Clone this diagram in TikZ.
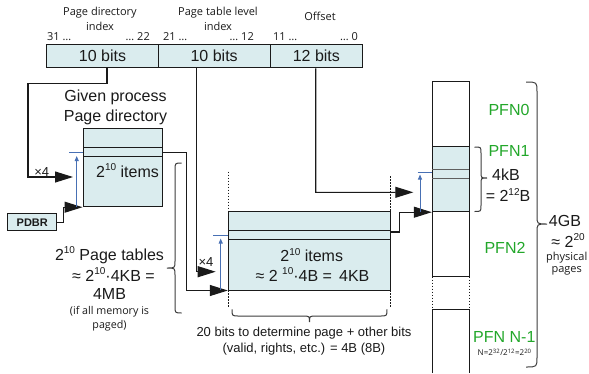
\documentclass[tikz,border=0pt]{standalone}
\usepackage{fontspec}
\setmainfont{Liberation Sans}
\newfontfamily\smallf{Open Sans}
\usetikzlibrary{arrows.meta}
\definecolor{boxfill}{RGB}{218,236,238}
\definecolor{pfn}{RGB}{34,167,42}
\definecolor{arrblue}{RGB}{72,112,180}
\definecolor{ink}{RGB}{26,26,26}
\newcommand\spx[1]{\raisebox{0.42em}{\fontsize{10}{10}\selectfont #1}}
\begin{document}
\begin{tikzpicture}[x=1pt,y=-1pt,
  line/.style={draw=ink,line width=1.1pt},
  conn/.style={line,-{Triangle[length=18pt,width=11pt]}},
  bl/.style={draw=arrblue,line width=0.9pt},
  blarrow/.style={bl,-{Triangle[length=5pt,width=4pt]}},
  boxed/.style={draw=ink,fill=boxfill,line width=1pt,inner sep=0pt},
  cell/.style={boxed,minimum height=23.5pt,font=\fontsize{16}{18}\selectfont,text=ink},
  lbl/.style={font=\smallf\fontsize{11}{13}\selectfont,text=ink,inner sep=0pt},
  big/.style={font=\fontsize{16}{19}\selectfont,text=ink,inner sep=0pt},
  mid/.style={font=\fontsize{13}{15}\selectfont,text=ink,inner sep=0pt},
  green/.style={font=\fontsize{16}{19}\selectfont,text=pfn,inner sep=0pt},
  dotline/.style={draw=ink,line width=0.8pt,dash pattern=on 1.5pt off 1.5pt},
  brace/.style={draw=ink!85,line width=1pt}
]
\useasboundingbox (0,0) rectangle (589,373);

% ---- top register
\node[lbl] (l1a) at (100,12.5) {Page directory};
\node[lbl] (l1b) at (100,26) {index};
\node[lbl] (l2a) at (218,12.5) {Page table level};
\node[lbl] (l2b) at (218,26) {index};
\node[lbl] (l3) at (320,16) {Offset};
\node[lbl,anchor=west] (b31) at (47,36.5) {31 …};
\node[lbl,anchor=east] (b22) at (150,36.5) {… 22};
\node[lbl,anchor=west] (b21) at (163,36.5) {21 …};
\node[lbl,anchor=east] (b12) at (254,36.5) {… 12};
\node[lbl,anchor=west] (b11) at (273,36.5) {11 …};
\node[lbl,anchor=east] (b0) at (358,36.5) {… 0};

\node[cell,minimum width=111.6pt] (pdi) at (102.5,56) {10 bits};
\node[cell,minimum width=111.7pt] (ptl) at (214.15,56) {10 bits};
\node[cell,minimum width=92.7pt] (off) at (316.35,56) {12 bits};

% ---- page directory
\node[big] (gp1) at (115.5,97.7) {Given process};
\node[big] (gp2) at (115.5,117.3) {Page directory};
\node[boxed,minimum width=79.7pt,minimum height=78.4pt] (pd) at (122.85,167.5) {};
\draw[line,line width=1pt] (83,147.3) -- (162.7,147.3);
\draw[line,line width=1pt] (83,156.7) -- (162.7,156.7);
\node[big] (pdtxt) at (127.5,170.7) {2\spx{10} items};

\node[boxed,minimum width=48.7pt,minimum height=16.7pt,font=\bfseries\fontsize{11}{13}\selectfont,text=ink] (pdbr) at (32.3,222.3) {PDBR};

\coordinate (pdin) at (73,177);
\draw[conn] ([xshift=4.5pt]pdi.south) -- ++(0,15) -| (28,177) -- (pdin);
\node[font=\fontsize{13}{15}\selectfont,text=ink,inner sep=0pt] (x4a) at (41.7,172.5) {×4};
\draw[conn] (pdbr.east) -- ++(6,0) |- (pd.south west);
\draw[bl] (69,152.7) -- (83,152.7);
\draw[blarrow] (76.7,206.7) -- (76.7,156);

% ---- page table
\node[boxed,minimum width=162.4pt,minimum height=78.3pt] (pt) at (309.5,250.85) {};
\draw[line,line width=1pt] (228.3,230.7) -- (390.7,230.7);
\draw[line,line width=1pt] (228.3,239.3) -- (390.7,239.3);
\node[big] (pttxt1) at (311.7,255) {2\spx{10} items};
\node[big] (pttxt2) at (312.5,274.3) {≈ 2 \spx{10}·4B =\, 4KB};
\draw[dotline] (228.3,171.7) -- (228.3,211.7);
\draw[dotline] (228.3,290) -- (228.3,306.7);
\draw[dotline] (390.7,176) -- (390.7,211.7);
\draw[dotline] (390.7,290) -- (390.7,306.7);

\draw[conn] ([yshift=14.8pt]pd.east) -- (186.7,152.7) |- (pt.south west);
\coordinate (ptin) at (215.7,271.7);
\draw[conn] ([xshift=-17.45pt]ptl.south) -- (196.7,271.7) -- (ptin);
\node[font=\fontsize{13}{15}\selectfont,text=ink,inner sep=0pt] (x4b) at (206,261.7) {×4};
\draw[bl] (213,235.7) -- (228.3,235.7);
\draw[blarrow] (220.7,290) -- (220.7,238.5);

% ---- left brace and text
\draw[brace] (181.7,163) .. controls (175,163) .. (175,170) -- (175,261) .. controls (175,268) .. (167,268) .. controls (175,268) .. (175,275) -- (175,306) .. controls (175,313) .. (181.7,313);
\node[big] (ptab1) at (109.5,255) {2\spx{10} Page tables};
\node[big] (ptab2) at (113.5,274.3) {≈ 2\spx{10}·4KB =};
\node[big] (ptab3) at (109.5,294) {4MB};
\node[lbl,font=\smallf\fontsize{10.7}{13}\selectfont] (ptab4) at (109.5,311.7) {(if all memory is};
\node[lbl,font=\smallf\fontsize{10.7}{13}\selectfont] (ptab5) at (109.5,325.3) {paged)};

% ---- bottom brace and text
\draw[brace] (232,309.3) .. controls (232,316) .. (239,316) -- (302.5,316) .. controls (309.5,316) .. (309.5,322) .. controls (309.5,316) .. (316.5,316) -- (380,316) .. controls (387,316) .. (387,309.3);
\node[mid] (eb1) at (304,332.7) {20 bits to determine page + other bits};
\node[mid] (eb2) at (304,349) {(valid, rights, etc.) = 4B (8B)};

% ---- memory column
\draw[line,line width=1pt,fill=white] (432.3,276.7) -- (432.3,81.7) -- (469.3,81.7) -- (469.3,276.7) -- cycle;
\draw[dotline] (432.3,276.7) -- (432.3,309.3);
\draw[dotline] (469.3,276.7) -- (469.3,309.3);
\draw[line,line width=1pt] (432.3,373) -- (432.3,309.3) -- (469.3,309.3) -- (469.3,373);
\node[boxed,minimum width=37pt,minimum height=65pt] (fr) at (450.8,179.2) {};
\draw[draw=ink!70,line width=1.2pt] (432.3,169.3) -- (469.3,169.3);
\draw[draw=ink!70,line width=1.2pt] (432.3,178.7) -- (469.3,178.7);

\coordinate (frin) at (413.3,192.3);
\draw[conn] ([xshift=-0.65pt]off.south) -- (315.7,192.3) -- (frin);
\draw[conn] ([yshift=18.85pt]pt.east) -- ++(8.6,0) |- (fr.south west);
\draw[bl] (417.7,172.7) -- (432.3,172.7);
\draw[blarrow] (420,211.7) -- (420,174.5);

% ---- right labels
\node[green] (pfn0) at (509,110) {PFN0};
\node[green] (pfn1) at (509,150.7) {PFN1};
\draw[brace] (474.5,147) .. controls (481,147) .. (481,153) -- (481,172) .. controls (481,178) .. (487,178) .. controls (481,178) .. (481,184) -- (481,205.5) .. controls (481,211.5) .. (474.5,211.5);
\node[big] (fk1) at (506,175) {4kB};
\node[big] (fk2) at (508,195) {= 2\spx{12}B};
\node[green] (pfn2) at (505,248) {PFN2};
\node[green] (pfnn) at (504.3,336.7) {PFN N-1};
\node[lbl,font=\smallf\fontsize{8}{10}\selectfont] (nn) at (504.7,352.3) {N=2\textsuperscript{32}/2\textsuperscript{12}=2\textsuperscript{20}};

\draw[brace] (526,82) .. controls (537,82) .. (537,92) -- (537,216) .. controls (537,224) .. (547,224) .. controls (537,224) .. (537,232) -- (537,357) .. controls (537,367) .. (526,367);
\node[big] (gb) at (565,220.7) {4GB};
\node[big] (gb2) at (568,240.7) {≈ 2\spx{20}};
\node[lbl] (gb3) at (566.7,257.3) {physical};
\node[lbl] (gb4) at (566.7,271) {pages};
\end{tikzpicture}
\end{document}
